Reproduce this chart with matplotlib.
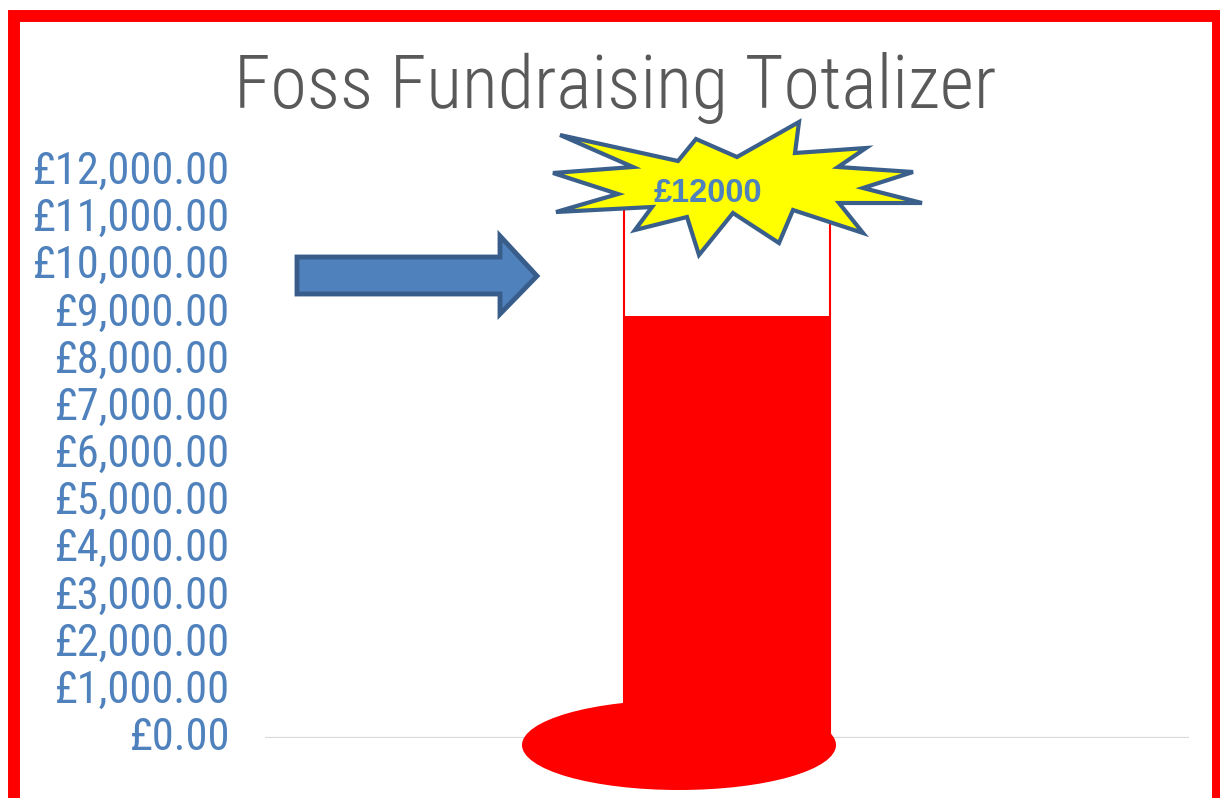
import matplotlib
matplotlib.use("Agg")
import matplotlib.pyplot as plt
from matplotlib import font_manager
from matplotlib.patches import Ellipse, Polygon, Rectangle

# ---- data ----
categories = ["Total"]
raised = [8950]
goal = 12000
tick_values = list(range(0, 13000, 1000))
tick_labels = [f"£{v:,.2f}" for v in tick_values]
title = "Foss Fundraising Totalizer"
star_label = f"£{goal}"


def pick(families):
    for f in families:
        try:
            font_manager.findfont(font_manager.FontProperties(family=f), fallback_to_default=False)
            return f
        except Exception:
            continue
    return "DejaVu Sans"


narrow = pick(["Liberation Sans Narrow", "Roboto Condensed", "Open Sans Condensed", "Liberation Sans"])
boldf = pick(["Liberation Sans", "Open Sans"])

W, H = 1220, 798
fig = plt.figure(figsize=(W / 100, H / 100), dpi=100)
fig.patch.set_facecolor("white")


def fx(x):
    return x / W


def fy(y):
    return 1 - y / H


ax = fig.add_axes([fx(265), fy(738), fx(1189) - fx(265), fy(172) - fy(738)])
ax.set_xlim(-0.5, 0.5)
ax.set_ylim(0, goal)
for s in ax.spines.values():
    s.set_visible(False)
ax.axhline(0, color="#D9D9D9", lw=1.6, zorder=1)

# outline (goal) tube and filled amount
ax.bar([0], [goal], width=0.223, color="white", edgecolor="#FF0000", linewidth=1.5, zorder=2)
ax.bar([0], raised, width=0.223, color="#FF0000", edgecolor="#FF0000", linewidth=0, zorder=3)

ax.set_xticks([])
ax.set_yticks(tick_values)
ax.set_yticklabels(tick_labels, fontfamily=narrow, fontsize=32, color="#4F81BD", va="center")
ax.tick_params(axis="y", length=0, pad=25)

# bulb ellipse
bulb = Ellipse((fx(679), fy(745)), fx(314), 90 / H, transform=fig.transFigure,
               facecolor="#FF0000", edgecolor="none", zorder=5)
fig.patches.append(bulb)

# arrow
arrow_px = [(297, 257), (500, 257), (500, 236), (537, 276), (500, 314), (500, 294), (297, 294)]
arrow = Polygon([(fx(x), fy(y)) for x, y in arrow_px], closed=True, transform=fig.transFigure,
                facecolor="#4F81BD", edgecolor="#385D8A", linewidth=3.5, joinstyle="miter", zorder=6)
fig.patches.append(arrow)

# star burst
star_px = [(560, 135), (678, 161), (696, 139), (737, 157), (799, 122), (795, 153), (866, 148),
           (838, 167), (913, 172), (863, 188), (922, 203), (839, 203), (863, 233), (793, 210),
           (779, 243), (733, 213), (699, 255), (687, 217), (635, 230), (652, 207), (556, 212),
           (618, 194), (553, 173), (633, 167)]
star = Polygon([(fx(x), fy(y)) for x, y in star_px], closed=True, transform=fig.transFigure,
               facecolor="#FFFF00", edgecolor="#3A5F8B", linewidth=3, joinstyle="miter", zorder=7)
fig.patches.append(star)

fig.text(fx(708), fy(193), star_label, ha="center", va="center", fontfamily=boldf,
         fontweight="bold", fontsize=23.5, color="#4F81BD", zorder=8)

# title
fig.text(fx(615), fy(108), title, ha="center", va="baseline", fontfamily=narrow,
         fontsize=53.5, fontweight="light", color="#595959", zorder=8)

# red frame
frame = Rectangle((fx(14), fy(800)), fx(1218) - fx(14), fy(16) - fy(800), transform=fig.transFigure,
                  facecolor="none", edgecolor="#FF0000", linewidth=8.6, zorder=10)
fig.patches.append(frame)

fig.savefig("out.png", dpi=100, facecolor="white")
